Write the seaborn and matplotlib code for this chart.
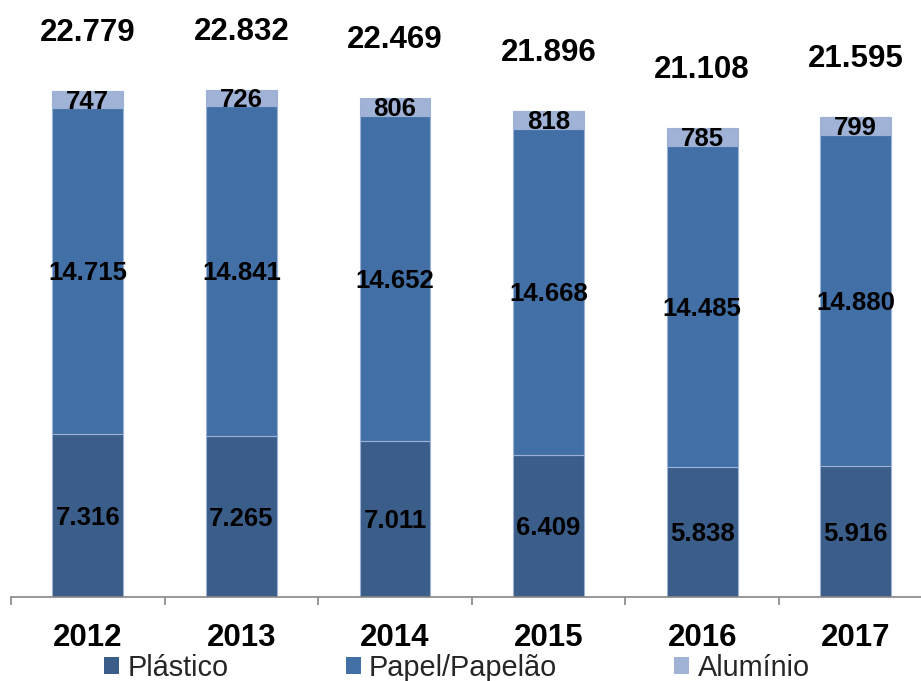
import numpy as np
import pandas as pd
import matplotlib
matplotlib.use("Agg")
import matplotlib.pyplot as plt
import seaborn as sns

years = ["2012", "2013", "2014", "2015", "2016", "2017"]
plastico = [7316, 7265, 7011, 6409, 5838, 5916]
papel = [14715, 14841, 14652, 14668, 14485, 14880]
aluminio = [747, 726, 806, 818, 785, 799]
totais = [22779, 22832, 22469, 21896, 21108, 21595]

series_names = ["Plástico", "Papel/Papelão", "Alumínio"]
colors = ["#3B5D8A", "#4270A6", "#A0B3D6"]

sns.set_theme(style="white")
plt.rcParams["font.family"] = ["Liberation Sans", "DejaVu Sans"]

fig = plt.figure(figsize=(9.21, 6.81), dpi=100)
W, H = 921, 681
base_px = 597
top_val_px = 91
ppu = (base_px - top_val_px) / totais[0]
ax = fig.add_axes([11 / W, 1 - base_px / H, 921.6 / W, base_px / H])
ax.set_ylim(0, base_px / ppu)

df = pd.DataFrame({"ano": years, "Plástico": plastico,
                   "Papel/Papelão": papel, "Alumínio": aluminio})

bottom = np.zeros(len(years))
for name, col in zip(series_names, colors):
    sns.barplot(data=df, x="ano", y=name, color=col, width=0.46,
                bottom=bottom.copy(), edgecolor="#9DB1D6", linewidth=0.8,
                saturation=1, ax=ax, label=name)
    bottom = bottom + df[name].to_numpy()

for cont in ax.containers:
    labels = [f"{int(round(b.get_height())):,}".replace(",", ".") for b in cont]
    for b, lab in zip(cont, labels):
        cx = b.get_x() + b.get_width() / 2
        cy = b.get_y() + b.get_height() / 2
        ax.annotate(lab, (cx, cy), xytext=(0, -6.7), textcoords="offset points",
                    ha="center", va="baseline", fontsize=18.5, fontweight="bold",
                    color="black")

for i, t in enumerate(totais):
    ax.annotate(f"{t:,}".replace(",", "."), (i, t), xytext=(0, 36),
                textcoords="offset points", ha="center", va="baseline",
                fontsize=22.5, fontweight="bold", color="black")

ax.set_xlim(-0.5, 5.5)
ax.set_xlabel("")
ax.set_ylabel("")
ax.set_yticks([])
for s in ["left", "right", "top"]:
    ax.spines[s].set_visible(False)
ax.spines["bottom"].set_color("#868686")
ax.spines["bottom"].set_linewidth(1.2)
ax.set_xticks(range(len(years)))
ax.set_xticklabels(years, fontsize=22.5, fontweight="bold", color="black")
ax.tick_params(axis="x", which="major", length=0, pad=18.5)
ax.set_xticks(np.arange(-0.5, len(years), 1.0), minor=True)
ax.tick_params(axis="x", which="minor", bottom=True, length=5.8, width=1.2,
               color="#868686", direction="out")

if ax.get_legend() is not None:
    ax.get_legend().remove()
handles, labels = ax.get_legend_handles_labels()
leg = fig.legend(handles[:3], labels[:3], loc="center left",
                 bbox_to_anchor=(104 / W, 1 - 668 / H), ncol=3, frameon=False,
                 fontsize=20.8, handlelength=0.53, handleheight=0.53,
                 handletextpad=0.28, columnspacing=4.05, borderpad=0,
                 borderaxespad=0)
for h in leg.legend_handles:
    h.set_edgecolor("none")

fig.savefig("out.png", dpi=100)
